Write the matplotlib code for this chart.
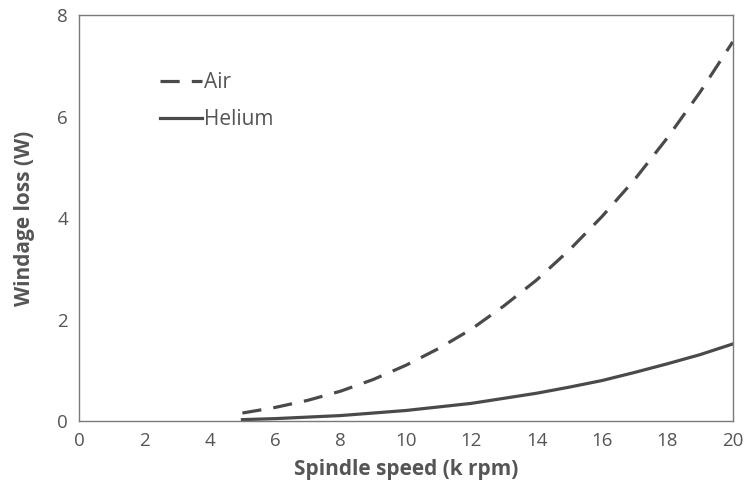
import matplotlib
matplotlib.use("Agg")
import matplotlib.pyplot as plt

speed = [5, 6, 7, 8, 9, 10, 11, 12, 13, 14, 15, 16, 17, 18, 19, 20]
air = [0.16, 0.27, 0.41, 0.59, 0.82, 1.10, 1.43, 1.81, 2.27, 2.78, 3.37, 4.03, 4.76, 5.58, 6.48, 7.47]
helium = [0.03, 0.05, 0.08, 0.11, 0.16, 0.21, 0.28, 0.35, 0.45, 0.55, 0.67, 0.80, 0.96, 1.13, 1.31, 1.52]
xticks = [0, 2, 4, 6, 8, 10, 12, 14, 16, 18, 20]
yticks = [0, 2, 4, 6, 8]

plt.rcParams['font.family'] = ['Open Sans', 'DejaVu Sans']

fig = plt.figure(figsize=(7.48, 4.99), dpi=100)
ax = fig.add_axes([0.1056, 0.156, 0.874, 0.814])

line_col = '#4a4a4a'
ax.plot(speed, air, color=line_col, lw=2.3, dashes=(6, 3.8), label='Air',
        solid_joinstyle='round', dash_joinstyle='round')
ax.plot(speed, helium, color=line_col, lw=2.3, label='Helium',
        solid_joinstyle='round')

ax.set_xlim(0, 20)
ax.set_ylim(0, 8)
ax.set_xticks(xticks)
ax.set_yticks(yticks)
ax.tick_params(length=0, labelsize=13.5, labelcolor='#555555', pad=8)
for s in ax.spines.values():
    s.set_color('#7a7a7a')
    s.set_linewidth(1.0)

ax.set_xlabel('Spindle speed (k rpm)', fontsize=15, fontweight='bold', color='#555555', labelpad=6)
ax.set_ylabel('Windage loss (W)', fontsize=15, fontweight='bold', color='#555555', labelpad=16)

leg = ax.legend(loc='upper left', bbox_to_anchor=(0.095, 0.905), frameon=False,
                fontsize=15, handlelength=2.0, handletextpad=0.1, labelspacing=0.75)
for t in leg.get_texts():
    t.set_color('#555555')

fig.savefig('out.png', dpi=100)
